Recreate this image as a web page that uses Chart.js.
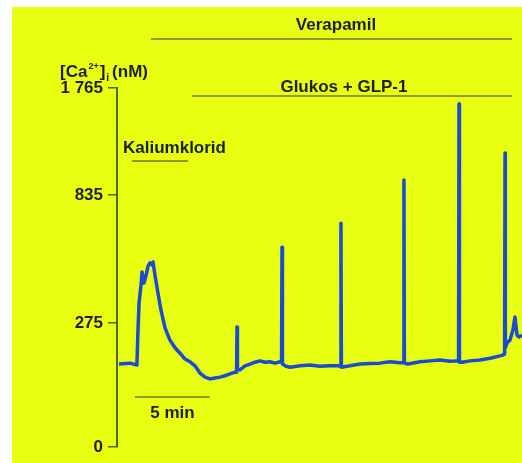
<!DOCTYPE html>
<html>
<head>
<meta charset="utf-8">
<script src="https://cdn.jsdelivr.net/npm/chart.js@4.4.1/dist/chart.umd.min.js"></script>
<style>
  html, body { margin: 0; padding: 0; background: #fff; }
  #wrap { position: absolute; left: 12px; top: 7px; width: 510px; height: 456px; background: #e9ff12; }
</style>
</head>
<body>
<div id="wrap"><canvas id="chart"></canvas></div>
<script>
// --- data ---
// time in minutes from the left axis, [Ca2+]i in nM
var timeMin = [
  0.13, 0.87, 1.27, 1.33, 1.40, 1.47, 1.60, 1.67, 1.80, 1.93, 2.07, 2.20, 2.33, 2.40, 2.53,
  2.73, 2.93, 3.20, 3.53, 3.87, 4.20, 4.53, 4.87, 5.20, 5.53, 5.87, 6.20, 6.53, 6.87, 7.20,
  7.53, 7.87, 7.97, 8.00, 8.03, 8.20, 8.53, 8.87, 9.20, 9.53, 9.87, 10.20, 10.53, 10.87,
  10.97, 11.00, 11.03, 11.27, 11.53, 12.20, 12.87, 13.53, 14.20, 14.73, 14.89, 14.93, 14.96,
  15.13, 15.53, 16.20, 16.87, 17.53, 18.20, 18.87, 19.09, 19.13, 19.16, 19.40, 20.20, 20.87,
  21.53, 22.20, 22.60, 22.77, 22.80, 22.83, 23.00, 23.53, 24.20, 24.87, 25.53, 25.73, 25.84,
  25.87, 25.89, 26.00, 26.20, 26.40, 26.53, 26.67, 26.80, 27.00
];
var caNM = [
  184, 186, 182, 186, 260, 362, 441, 498, 450, 481, 524, 538, 529, 542, 485,
  406, 332, 264, 237, 220, 208, 195, 189, 180, 164, 155, 151, 153, 155, 158,
  162, 166, 166, 266, 173, 171, 180, 184, 188, 191, 188, 189, 186, 189,
  188, 607, 184, 179, 177, 180, 182, 179, 180, 180, 179, 712, 177,
  178, 180, 184, 185, 186, 189, 187, 187, 965, 186, 184, 189, 191,
  193, 190, 191, 190, 1626, 188, 188, 191, 193, 197, 202, 204, 206,
  1200, 220, 231, 237, 260, 301, 248, 244, 248
];

// y axis is the non-linear fura-2 calibration: labelled concentrations and where they sit
var tickNM = [0, 275, 835, 1765];
var tickLabels = ['0', '275', '835', '1 765'];
var tickPos = [0, 0.3454, 0.7019, 1];

// treatment bars (minutes)
var barLabels = ['Verapamil', 'Glukos + GLP-1', 'Kaliumklorid'];
var barStart = [2.27, 5.0, 1.0];
var barEnd = [26.33, 26.33, 4.73];
var barTextAt = [14.6, 15.13, 0.4];

var scaleBarStart = 1.2;
var scaleBarMin = 5;

function toAxis(c) {
  for (var i = 1; i < tickNM.length; i++) {
    if (c <= tickNM[i] || i === tickNM.length - 1) {
      var f = (c - tickNM[i - 1]) / (tickNM[i] - tickNM[i - 1]);
      return tickPos[i - 1] + f * (tickPos[i] - tickPos[i - 1]);
    }
  }
}

var INK = '#1e1e14';
var AXIS = '#4a6a2c';
var BARLINE = '#6c7a2a';
var FONT = "'Liberation Sans', Arial, sans-serif";

var annotations = {
  id: 'annotations',
  afterDraw: function(chart) {
    var ctx = chart.ctx;
    var x = chart.scales.x;
    ctx.save();
    ctx.fillStyle = INK;
    ctx.strokeStyle = BARLINE;
    ctx.lineWidth = 1.5;
    ctx.font = 'bold 17px ' + FONT;
    ctx.textBaseline = 'alphabetic';

    var lineY = [32, 89, 154];
    var textY = [23, 85, 146];
    for (var i = 0; i < barLabels.length; i++) {
      ctx.beginPath();
      ctx.moveTo(x.getPixelForValue(barStart[i]), lineY[i]);
      ctx.lineTo(x.getPixelForValue(barEnd[i]), lineY[i]);
      ctx.stroke();
      ctx.textAlign = i === 2 ? 'left' : 'center';
      ctx.fillText(barLabels[i], x.getPixelForValue(barTextAt[i]), textY[i]);
    }

    // 5 min scale bar
    var sx0 = x.getPixelForValue(scaleBarStart);
    var sx1 = x.getPixelForValue(scaleBarStart + scaleBarMin);
    ctx.beginPath();
    ctx.moveTo(sx0, 390);
    ctx.lineTo(sx1, 390);
    ctx.stroke();
    ctx.textAlign = 'center';
    ctx.fillText(scaleBarMin + ' min', (sx0 + sx1) / 2, 411);

    // axis title [Ca2+]i (nM)
    ctx.textAlign = 'left';
    var tx = 48, ty = 70;
    ctx.font = 'bold 17px ' + FONT;
    ctx.fillText('[Ca', tx, ty); tx += ctx.measureText('[Ca').width;
    ctx.font = 'bold 9px ' + FONT;
    ctx.fillText('2+', tx + 1, ty - 8); tx += ctx.measureText('2+').width + 2;
    ctx.font = 'bold 17px ' + FONT;
    ctx.fillText(']', tx, ty); tx += ctx.measureText(']').width;
    ctx.font = 'bold 10px ' + FONT;
    ctx.fillText('i', tx + 1, ty + 4); tx += ctx.measureText('i').width + 4;
    ctx.font = 'bold 17px ' + FONT;
    ctx.fillText('(nM)', tx, ty);
    ctx.restore();
  }
};

new Chart(document.getElementById('chart').getContext('2d'), {
  type: 'line',
  data: {
    datasets: [{
      data: timeMin.map(function(t, i) { return { x: t, y: toAxis(caNM[i]) }; }),
      borderColor: '#1a4bd0',
      borderWidth: 3.5,
      borderJoinStyle: 'round',
      pointRadius: 0,
      tension: 0,
      fill: false
    }]
  },
  options: {
    responsive: true,
    maintainAspectRatio: false,
    animation: false,
    layout: { padding: { top: 81, bottom: 16, left: 0, right: 0 } },
    plugins: { legend: { display: false }, tooltip: { enabled: false } },
    scales: {
      x: { type: 'linear', min: 0, max: 27, display: false },
      y: {
        type: 'linear', min: 0, max: 1,
        afterFit: function(scale) { scale.width = 105; },
        afterBuildTicks: function(scale) {
          scale.ticks = tickPos.map(function(v) { return { value: v }; });
        },
        grid: { drawOnChartArea: false, drawTicks: true, tickLength: 9, color: AXIS, lineWidth: 1.5 },
        border: { display: true, color: AXIS, width: 2 },
        ticks: {
          padding: 5,
          color: INK,
          font: { family: FONT, size: 17, weight: 'bold' },
          autoSkip: false,
          callback: function(v, i) { return tickLabels[i]; }
        }
      }
    }
  },
  plugins: [annotations]
});
</script>
</body>
</html>
